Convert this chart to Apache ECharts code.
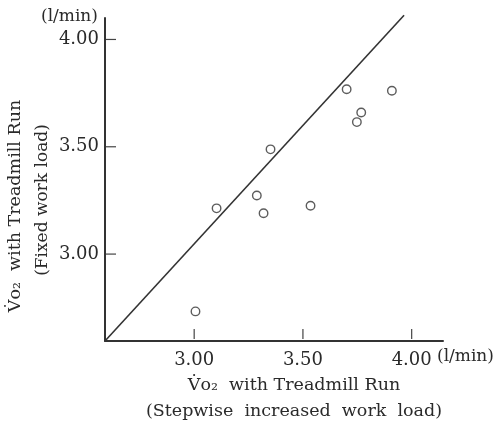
<!DOCTYPE html>
<html>
<head>
<meta charset="utf-8">
<script src="https://cdn.jsdelivr.net/npm/echarts@6/dist/echarts.min.js"></script>
<style>
html,body{margin:0;padding:0;background:#fff;}
#c{width:496px;height:427px;}
</style>
</head>
<body>
<div id="c"></div>
<script>
// Data
const stepwiseVO2 = [3.701, 3.909, 3.768, 3.748, 3.351, 3.288, 3.103, 3.319, 3.535, 3.006];
const fixedVO2    = [3.768, 3.761, 3.660, 3.615, 3.488, 3.273, 3.213, 3.190, 3.225, 2.733];
const regressionX = [2.59, 3.965];
const regressionY = [2.595, 4.113];
const tickValues  = [3.0, 3.5, 4.0];
const xTitle = ['V\u0307o\u2082  with Treadmill Run', '(Stepwise  increased  work  load)'];
const yTitle = ['V\u0307o\u2082  with Treadmill Run', '(Fixed work load)'];
const unitLabel = '(l/min)';

const X_MIN = 2.59, X_MAX = 4.144, Y_MIN = 2.595, Y_MAX = 4.10;

const points = stepwiseVO2.map((x, i) => [x, fixedVO2[i]]);
const line = regressionX.map((x, i) => [x, regressionY[i]]);

const serif = '"DejaVu Serif", "Liberation Serif", serif';
const ink = '#2a2a2a';
const tickLen = 10;

const chart = echarts.init(document.getElementById('c'), null, {renderer: 'canvas'});
chart.setOption({
  backgroundColor: '#fff',
  animation: false,
  grid: {left: 105, right: 53, top: 18, bottom: 86},
  xAxis: {
    type: 'value', min: X_MIN, max: X_MAX,
    axisLine: {show: true, lineStyle: {color: '#333', width: 2}},
    axisTick: {show: false},
    axisLabel: {customValues: tickValues, formatter: v => v.toFixed(2), fontFamily: serif, fontSize: 18, color: ink, margin: 10},
    splitLine: {show: false}
  },
  yAxis: {
    type: 'value', min: Y_MIN, max: Y_MAX,
    axisLine: {show: true, lineStyle: {color: '#333', width: 2}},
    axisTick: {show: false},
    axisLabel: {customValues: tickValues, formatter: v => v.toFixed(2), fontFamily: serif, fontSize: 18, color: ink, margin: 6},
    splitLine: {show: false}
  },
  series: [
    {
      type: 'line', data: line, showSymbol: false, clip: false,
      lineStyle: {color: '#333', width: 1.6}, silent: true
    },
    {
      type: 'scatter', data: points, symbol: 'circle', symbolSize: 8.5,
      itemStyle: {color: '#fff', borderColor: '#333', borderWidth: 1.4}
    },
    {
      // inside tick marks on the x axis
      type: 'custom', silent: true, clip: false,
      data: tickValues.map(v => [v, Y_MIN]),
      renderItem: (params, api) => {
        const p = api.coord([api.value(0), api.value(1)]);
        return {type: 'line', shape: {x1: p[0], y1: p[1] - 2, x2: p[0], y2: p[1] - 2 - tickLen},
                style: {stroke: '#444', lineWidth: 1.2}};
      }
    },
    {
      // inside tick marks on the y axis
      type: 'custom', silent: true, clip: false,
      data: tickValues.map(v => [X_MIN, v]),
      renderItem: (params, api) => {
        const p = api.coord([api.value(0), api.value(1)]);
        return {type: 'line', shape: {x1: p[0] + 1, y1: p[1], x2: p[0] + 1 + tickLen, y2: p[1]},
                style: {stroke: '#444', lineWidth: 1.2}};
      }
    }
  ],
  graphic: [
    {type: 'text', left: 41, top: 8, style: {text: unitLabel, font: '17px ' + serif, fill: ink}},
    {type: 'text', left: 437, top: 348, style: {text: unitLabel, font: '17px ' + serif, fill: ink}},
    {type: 'text', x: 294, y: 385, style: {text: xTitle[0], font: '17.5px ' + serif, fill: ink, align: 'center', verticalAlign: 'middle'}},
    {type: 'text', x: 294, y: 411, style: {text: xTitle[1], font: '17.5px ' + serif, fill: ink, align: 'center', verticalAlign: 'middle'}},
    {type: 'text', x: 15, y: 206, rotation: Math.PI / 2, style: {text: yTitle[0], font: '17.5px ' + serif, fill: ink, align: 'center', verticalAlign: 'middle'}},
    {type: 'text', x: 43, y: 200, rotation: Math.PI / 2, style: {text: yTitle[1], font: '17px ' + serif, fill: ink, align: 'center', verticalAlign: 'middle'}}
  ]
});
</script>
</body>
</html>
